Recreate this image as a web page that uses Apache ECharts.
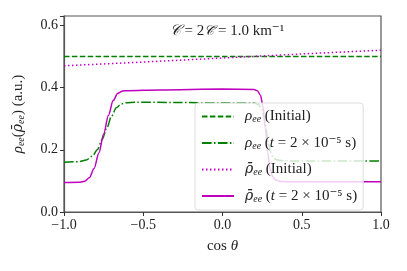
<!DOCTYPE html>
<html><head><meta charset="utf-8">
<script src="https://cdn.jsdelivr.net/npm/echarts@6/dist/echarts.min.js"></script>
<style>html,body{margin:0;padding:0;background:#fff}#c{width:407px;height:271px}</style>
</head><body><div id="c"></div>
<script>
const xTicks = [-1.0, -0.5, 0.0, 0.5, 1.0];
const yTicks = [0.0, 0.2, 0.4, 0.6];
// rho_ee initial (green dashed)
const rhoInitX = [-1, 1];
const rhoInitY = [0.5, 0.5];
// rho_ee at t (green dash-dot)
const rhoTX = [-1, -0.9, -0.86, -0.82, -0.79, -0.76, -0.73, -0.70, -0.67, -0.64, -0.61, -0.55, -0.3, 0, 0.2, 0.225, 0.245, 0.26, 0.275, 0.29, 0.305, 0.32, 0.34, 0.38, 0.45, 1];
const rhoTY = [0.160, 0.162, 0.167, 0.180, 0.200, 0.232, 0.270, 0.308, 0.335, 0.347, 0.351, 0.353, 0.352, 0.351, 0.350, 0.346, 0.335, 0.31, 0.265, 0.22, 0.19, 0.175, 0.168, 0.165, 0.164, 0.164];
// rhobar_ee initial (magenta dotted)
const rhobInitX = [-1, -0.5, 0, 0.5, 1];
const rhobInitY = [0.470, 0.482, 0.495, 0.508, 0.520];
// rhobar_ee at t (magenta solid)
const rhobTX = [-1, -0.9, -0.87, -0.84, -0.81, -0.78, -0.75, -0.72, -0.69, -0.66, -0.63, -0.6, -0.4, 0, 0.2, 0.22, 0.24, 0.255, 0.27, 0.285, 0.30, 0.315, 0.33, 0.36, 0.4, 1];
const rhobTY = [0.095, 0.096, 0.099, 0.110, 0.140, 0.190, 0.250, 0.310, 0.358, 0.382, 0.389, 0.390, 0.392, 0.395, 0.394, 0.390, 0.375, 0.340, 0.270, 0.190, 0.140, 0.115, 0.104, 0.099, 0.097, 0.097];

const zip = (a, b) => a.map((v, i) => [v, b[i]]);
const fmt = v => (v < 0 ? '\u2212' : '') + Math.abs(v).toFixed(1);
const FF = '"Liberation Serif", "DejaVu Serif", serif';
const FD = '"DejaVu Serif", serif';
const rich = {
  t: {fontFamily: FF, fontSize: 15, fontWeight: 'normal', color: '#222'},
  i: {fontFamily: FF, fontSize: 15, fontWeight: 'normal', fontStyle: 'italic', color: '#222'},
  b: {fontFamily: FD, fontSize: 14, fontWeight: 'normal', fontStyle: 'italic', color: '#222'},
  s: {fontFamily: FF, fontSize: 10, fontWeight: 'normal', fontStyle: 'italic', color: '#222', verticalAlign: 'bottom', padding: [6, 0, 0, 0]}
};
const names = ['rhoInit', 'rhoT', 'rhobInit', 'rhobT'];
const labels = {
  rhoInit: '{i|ρ}{s|ee}{t| (Initial)}',
  rhoT: '{i|ρ}{s|ee}{t| (}{i|t}{t| = 2 × 10⁻⁵ s)}',
  rhobInit: '{b|ρ̄}{s|ee}{t| (Initial)}',
  rhobT: '{b|ρ̄}{s|ee}{t| (}{i|t}{t| = 2 × 10⁻⁵ s)}'
};
const GREEN = '#008000', MAG = '#bf00bf';
const chart = echarts.init(document.getElementById('c'), null, {renderer: 'canvas'});
chart.setOption({
  animation: false,
  backgroundColor: '#fff',
  title: {
    text: '{i|𝒞}{t| = 2}{b|𝒞̄}{t| = 1.0 km⁻¹}', left: 222, top: 19, textAlign: 'center',
    textStyle: {rich: rich, fontWeight: 'normal'}
  },
  grid: {left: 64, right: 26, top: 16, bottom: 59, show: true, borderColor: '#555', borderWidth: 1.2},
  legend: {
    data: names, orient: 'vertical', left: 195, top: 103, width: 179,
    itemWidth: 32, itemHeight: 12, itemGap: 11,
    padding: [6, 6, 6, 6],
    itemStyle: {opacity: 0},
    backgroundColor: 'rgba(255,255,255,0.8)', borderColor: '#ddd', borderWidth: 1, borderRadius: 3,
    formatter: n => labels[n],
    textStyle: {rich: rich, padding: [0, 0, 0, 6]}
  },
  xAxis: {
    type: 'value', min: -1, max: 1, interval: 0.5,
    axisLine: {show: true, onZero: false, lineStyle: {color: '#555', width: 1.2}},
    axisTick: {show: true, inside: false, length: 4, lineStyle: {color: '#333'}},
    axisLabel: {formatter: fmt, fontFamily: FF, fontSize: 14, color: '#222', margin: 6},
    splitLine: {show: false},
    name: '{t|cos }{i|θ}', nameLocation: 'middle', nameGap: 27,
    nameTextStyle: {rich: rich}
  },
  yAxis: {
    type: 'value', min: 0, max: 0.63, interval: 0.2,
    axisLine: {show: true, onZero: false, lineStyle: {color: '#555', width: 1.2}},
    axisTick: {show: true, inside: false, length: 4, lineStyle: {color: '#333'}},
    axisLabel: {formatter: v => (yTicks.some(t => Math.abs(t - v) < 1e-6) ? v.toFixed(1) : ''), fontFamily: FF, fontSize: 14, color: '#222', margin: 6},
    splitLine: {show: false},
    name: '{i|ρ}{s|ee}{t|(}{b|ρ̄}{s|ee}{t|) (a.u.)}', nameLocation: 'middle', nameGap: 38, nameRotate: 90,
    nameTextStyle: {rich: rich}
  },
  series: [
    {name: 'rhoInit', type: 'line', data: zip(rhoInitX, rhoInitY), symbol: 'none', z: 2,
     lineStyle: {color: GREEN, width: 1.5, type: [5.5, 2.4]}, itemStyle: {color: GREEN}},
    {name: 'rhoT', type: 'line', data: zip(rhoTX, rhoTY), symbol: 'none', smooth: 0.3, smoothMonotone: 'x', z: 2,
     lineStyle: {color: GREEN, width: 1.5, type: [9.6, 2.4, 1.5, 2.4]}, itemStyle: {color: GREEN}},
    {name: 'rhobInit', type: 'line', data: zip(rhobInitX, rhobInitY), symbol: 'none', z: 2,
     lineStyle: {color: MAG, width: 1.5, type: [1.5, 2.5]}, itemStyle: {color: MAG}},
    {name: 'rhobT', type: 'line', data: zip(rhobTX, rhobTY), symbol: 'none', smooth: 0.3, smoothMonotone: 'x', z: 2,
     lineStyle: {color: MAG, width: 1.5}, itemStyle: {color: MAG}}
  ]
});
</script></body></html>
